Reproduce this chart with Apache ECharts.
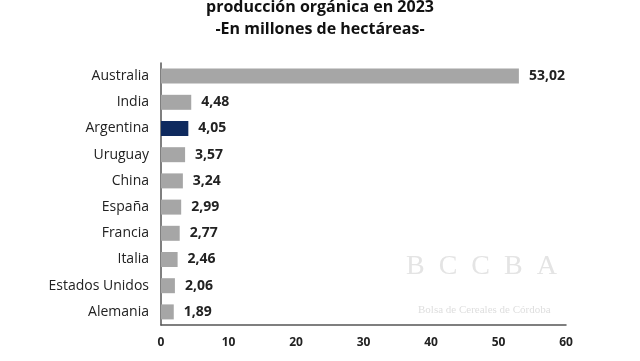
<!DOCTYPE html>
<html><head><meta charset="utf-8">
<script src="https://cdn.jsdelivr.net/npm/echarts@6/dist/echarts.min.js"></script>
<style>html,body{margin:0;padding:0;background:#fff}#c{width:640px;height:361px}</style>
</head><body><div id="c"></div>
<script>
const categories = ["Australia","India","Argentina","Uruguay","China","España","Francia","Italia","Estados Unidos","Alemania"];
const values = [53.02,4.48,4.05,3.57,3.24,2.99,2.77,2.46,2.06,1.89];
const highlight = "Argentina";
const titleLines = ["producción orgánica en 2023","-En millones de hectáreas-"];
const xTicks = [0,10,20,30,40,50,60];

const chart = echarts.init(document.getElementById('c'), null, {renderer:'canvas'});
chart.setOption({
  backgroundColor:'#fff',
  animation:false,
  graphic:[
    {type:'text', left:'center', top:-1, style:{text:titleLines[0], font:'bold 16px "Open Sans", Roboto, sans-serif', fill:'#111'}, x:-8},
    {type:'text', left:'center', top:21, style:{text:titleLines[1], font:'bold 16px "Open Sans", Roboto, sans-serif', fill:'#111'}, x:-7},
    {type:'text', left:406, top:253, z:-1, style:{text:'B  C  C  B  A', font:'28px "Liberation Serif", "DejaVu Serif", serif', fill:'#e4e4e4'}},
    {type:'text', left:418, top:305, z:-1, style:{text:'Bolsa de Cereales de Córdoba', font:'11px "Liberation Serif", serif', fill:'#dedede'}}
  ],
  grid:{left:161, right:74, top:63, bottom:36, containLabel:false},
  xAxis:{type:'value', min:0, max:60, interval:10,
    axisLine:{show:true, lineStyle:{color:'#555', width:1.5}},
    axisTick:{show:false}, splitLine:{show:false},
    axisLabel:{color:'#222', fontSize:12, fontWeight:'bold', margin:12, fontFamily:'"Open Sans", sans-serif'}},
  yAxis:{type:'category', data:categories, inverse:true,
    axisLine:{show:true, lineStyle:{color:'#555', width:1.5}},
    axisTick:{show:false},
    axisLabel:{color:'#222', fontSize:14, margin:12, fontFamily:'"Open Sans", sans-serif'}},
  series:[{type:'bar', barWidth:15,
    data: values.map((v,i)=>({value:v, itemStyle:{color: categories[i]===highlight ? '#0f2a5e' : '#a6a6a6'}})),
    label:{show:true, position:'right', distance:10, color:'#222', fontSize:14, fontWeight:'bold', fontFamily:'"Open Sans", sans-serif',
      formatter:p=>p.value.toFixed(2).replace('.',',')}
  }]
});
</script></body></html>
